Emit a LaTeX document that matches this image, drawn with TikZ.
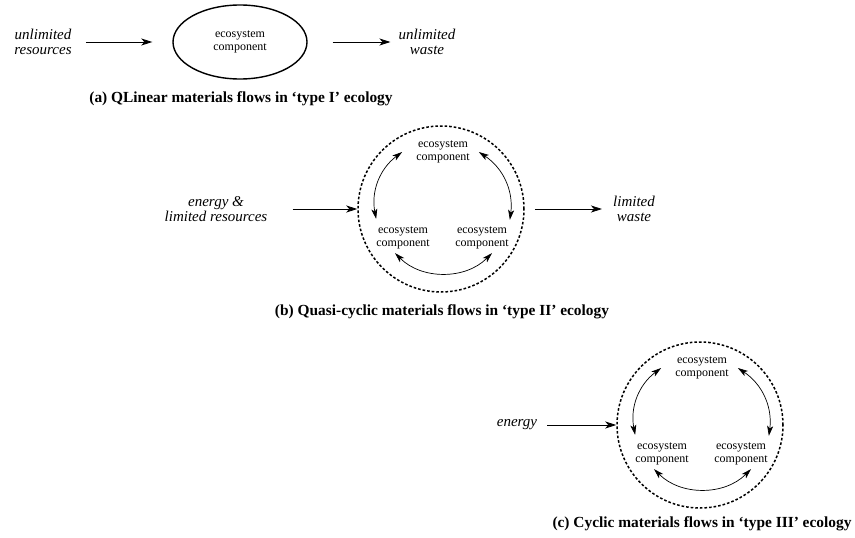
\documentclass[tikz,border=0pt]{standalone}
\usepackage{fontspec}
\setmainfont{Liberation Serif}
\usetikzlibrary{arrows.meta,shapes.geometric}
\begin{document}
\begin{tikzpicture}[x=1pt,y=-1pt,
  lbl/.style={font=\fontsize{15}{15}\selectfont\itshape, align=center, inner sep=0pt},
  eco/.style={font=\fontsize{12}{12.5}\selectfont, align=center, inner sep=0pt},
  captext/.style={font=\fontsize{15.4}{16}\selectfont\bfseries, inner sep=0pt},
  flow/.style={line width=0.8pt, -{Stealth[length=11pt,width=7pt,inset=3pt]}},
  twoway/.style={line width=0.7pt, {Stealth[length=10pt,width=6pt,inset=2.5pt]}-{Stealth[length=10pt,width=6pt,inset=2.5pt]}},
  bound/.style={circle, draw, line width=1.5pt, dash pattern=on 2.6pt off 2pt, minimum size=166pt, inner sep=0pt}
]
\useasboundingbox (0,0) rectangle (855,538);

% (a)
\node[lbl] (res) at (43,42) {unlimited\\resources};
\node[eco, ellipse, draw, line width=1.4pt, minimum width=134pt, minimum height=74pt] (eco) at (240,42) {ecosystem\\component};
\node[lbl] (uw) at (427,42) {unlimited\\waste};
\draw[flow] ([xshift=14]res.east) -- ([xshift=-20]eco.west);
\draw[flow] ([xshift=25]eco.east) -- ([xshift=-8]uw.west);
\node[captext] (capa) at (241,99) {(a) QLinear materials flows in ‘type I’ ecology};

% (b)
\node[lbl] (en) at (216,209) {energy \&\\limited resources};
\node[lbl] (lw) at (634,209) {limited\\waste};
\begin{scope}[shift={(441,209)}]
  \node[bound] (bc) at (0,0) {};
  \node[eco] (bt) at (2,-57) {ecosystem\\component};
  \node[eco] (bl) at (-38,29) {ecosystem\\component};
  \node[eco] (br) at (41,29) {ecosystem\\component};
  \draw[twoway] ([xshift=-14]bt.west) to[bend right=32] ([shift={(0,-8)}]bl.north west);
  \draw[twoway] ([xshift=9]bt.east) to[bend left=32] ([shift={(1,-7)}]br.north east);
  \draw[twoway] ([shift={(-8,4)}]bl.south) to[bend right=45] ([shift={(10,4)}]br.south);
\end{scope}
\draw[flow] ([xshift=25]en.east) -- (bc.west);
\draw[flow] ([xshift=10]bc.east) -- ([xshift=-11]lw.west);
\node[captext] (capb) at (442,312) {(b) Quasi-cyclic materials flows in ‘type II’ ecology};

% (c)
\node[lbl] (ce) at (517,425) {energy};
\begin{scope}[shift={(700,425)}]
  \node[bound] (cc) at (0,0) {};
  \node[eco] (ct) at (2,-57) {ecosystem\\component};
  \node[eco] (cl) at (-38,29) {ecosystem\\component};
  \node[eco] (cr) at (41,29) {ecosystem\\component};
  \draw[twoway] ([xshift=-14]ct.west) to[bend right=32] ([shift={(0,-8)}]cl.north west);
  \draw[twoway] ([xshift=9]ct.east) to[bend left=32] ([shift={(1,-7)}]cr.north east);
  \draw[twoway] ([shift={(-8,4)}]cl.south) to[bend right=45] ([shift={(10,4)}]cr.south);
\end{scope}
\draw[flow] ([xshift=10]ce.east) -- (cc.west);
\node[captext] (capc) at (702,524) {(c) Cyclic materials flows in ‘type III’ ecology};
\end{tikzpicture}
\end{document}
